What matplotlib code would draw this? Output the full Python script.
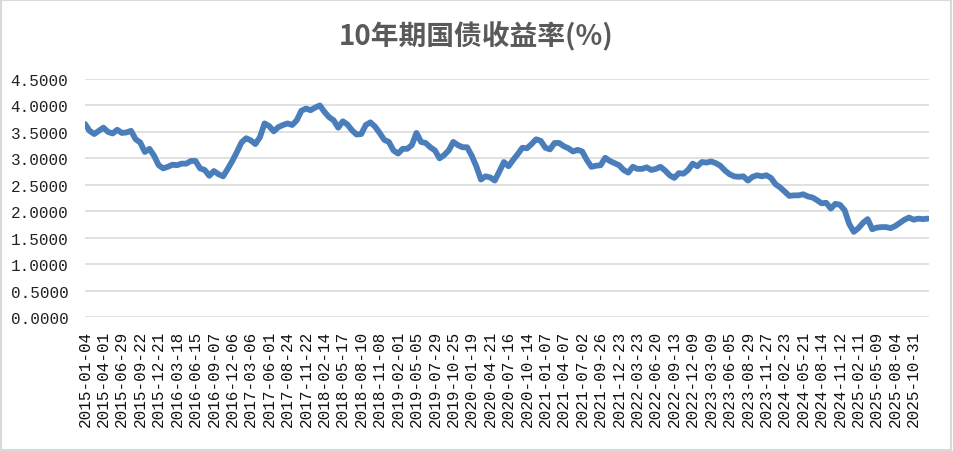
import numpy as np
import matplotlib
matplotlib.use("Agg")
import matplotlib.pyplot as plt
from matplotlib.patches import Rectangle

# ---------- DATA ----------
# yield sampled every 15 trading days, read off the reference chart
yield_pct = [
    3.65, 3.52, 3.46, 3.52, 3.58, 3.50, 3.47, 3.54, 3.48, 3.49,
    3.52, 3.36, 3.30, 3.12, 3.18, 3.05, 2.87, 2.81, 2.84, 2.88,
    2.87, 2.90, 2.90, 2.95, 2.95, 2.81, 2.78, 2.67, 2.76, 2.70,
    2.66, 2.80, 2.95, 3.12, 3.30, 3.38, 3.34, 3.27, 3.40, 3.66,
    3.61, 3.51, 3.59, 3.63, 3.66, 3.63, 3.72, 3.90, 3.94, 3.91,
    3.96, 4.00, 3.88, 3.78, 3.72, 3.58, 3.70, 3.64, 3.53, 3.45,
    3.46, 3.63, 3.68, 3.60, 3.48, 3.35, 3.31, 3.15, 3.09, 3.18,
    3.18, 3.25, 3.48, 3.31, 3.29, 3.21, 3.15, 3.00, 3.06, 3.15,
    3.31, 3.25, 3.21, 3.21, 3.05, 2.85, 2.60, 2.66, 2.64, 2.58,
    2.75, 2.93, 2.85, 2.97, 3.08, 3.20, 3.19, 3.27, 3.36, 3.33,
    3.20, 3.17, 3.29, 3.29, 3.23, 3.19, 3.13, 3.16, 3.13, 2.97,
    2.84, 2.86, 2.87, 3.01, 2.95, 2.91, 2.87, 2.78, 2.73, 2.84,
    2.80, 2.80, 2.83, 2.78, 2.80, 2.84, 2.77, 2.68, 2.63, 2.72,
    2.71, 2.78, 2.90, 2.85, 2.93, 2.92, 2.94, 2.91, 2.86, 2.77,
    2.70, 2.66, 2.65, 2.66, 2.58, 2.65, 2.68, 2.66, 2.68, 2.63,
    2.51, 2.45, 2.37, 2.29, 2.30, 2.30, 2.32, 2.28, 2.26, 2.21,
    2.15, 2.16, 2.05, 2.14, 2.12, 2.02, 1.76, 1.61, 1.68, 1.78,
    1.85, 1.66, 1.69, 1.70, 1.70, 1.68, 1.72, 1.78, 1.84, 1.88,
    1.84, 1.86, 1.85, 1.86,
]
SAMPLE_STEP = 15   # trading days between samples
LABEL_STEP = 60    # trading days between axis labels

tick_labels = [
    "2015-01-04", "2015-04-01", "2015-06-29", "2015-09-22", "2015-12-21",
    "2016-03-18", "2016-06-15", "2016-09-07", "2016-12-06", "2017-03-06",
    "2017-06-01", "2017-08-24", "2017-11-22", "2018-02-14", "2018-05-17",
    "2018-08-10", "2018-11-08", "2019-02-01", "2019-05-05", "2019-07-29",
    "2019-10-25", "2020-01-19", "2020-04-21", "2020-07-16", "2020-10-14",
    "2021-01-07", "2021-04-07", "2021-07-02", "2021-09-26", "2021-12-23",
    "2022-03-23", "2022-06-20", "2022-09-13", "2022-12-09", "2023-03-09",
    "2023-06-05", "2023-08-29", "2023-11-27", "2024-02-23", "2024-05-21",
    "2024-08-14", "2024-11-12", "2025-02-11", "2025-05-09", "2025-08-04",
    "2025-10-31",
]
title = "10年期国债收益率(%)"

# ---------- PLOT ----------
fig = plt.figure(figsize=(9.54, 4.52), dpi=100)
ax = fig.add_axes([85 / 954, 1 - 318 / 452, (929 - 85) / 954, (318 - 80) / 452])

x = np.arange(len(yield_pct)) * SAMPLE_STEP
ax.plot(x, yield_pct, color="#4a7ebb", lw=4.2, solid_joinstyle="round",
        solid_capstyle="round", zorder=3)

ax.set_ylim(0, 4.5)
ax.set_yticks(np.arange(0, 4.51, 0.5))
ax.set_yticklabels([f"{v:.4f}" for v in np.arange(0, 4.51, 0.5)],
                   family="Liberation Mono", fontsize=11.5, color="#222222")
ax.set_xlim(0, 2750)
ax.set_xticks(np.arange(len(tick_labels)) * LABEL_STEP)
ax.set_xticklabels(tick_labels, rotation=90, family="Liberation Mono",
                   fontsize=11.5, color="#111111")
ax.tick_params(axis="both", length=0)
ax.tick_params(axis="y", pad=12)
ax.tick_params(axis="x", pad=9)
ax.grid(axis="y", color="#d9d9d9", lw=1.1)
for s in ax.spines.values():
    s.set_visible(False)

fig.text(476 / 954, 1 - 36 / 452, title, ha="center", va="center",
         fontsize=20, fontweight="bold", color="#595959",
         family=["Noto Sans CJK SC", "DejaVu Sans"])

fig.patches.append(Rectangle((0.001, 0.002), 0.996, 0.995, transform=fig.transFigure,
                             fill=False, edgecolor="#d9d9d9", lw=1.5))

fig.savefig("out.png", dpi=100)
